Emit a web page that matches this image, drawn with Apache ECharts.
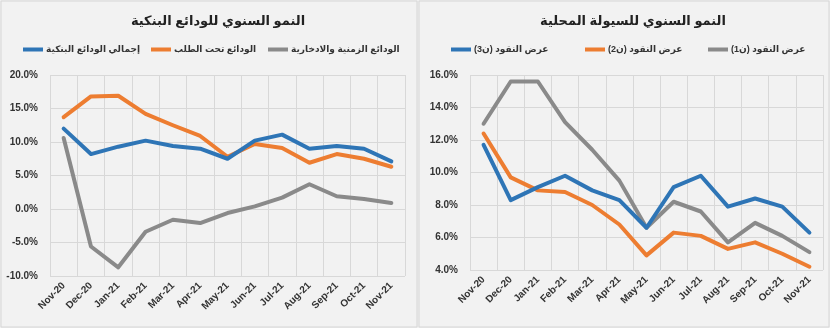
<!DOCTYPE html>
<html><head><meta charset="utf-8">
<script src="https://cdn.jsdelivr.net/npm/echarts@6/dist/echarts.min.js"></script>
<style>html,body{margin:0;padding:0;background:#efefef}#c{width:830px;height:328px}</style>
</head><body><div id="c"></div>
<script>
const months = ['Nov-20','Dec-20','Jan-21','Feb-21','Mar-21','Apr-21','May-21','Jun-21','Jul-21','Aug-21','Sep-21','Oct-21','Nov-21'];
const leftTitle = 'النمو السنوي للودائع البنكية';
const rightTitle = 'النمو السنوي للسيولة المحلية';
const depTotalName = 'إجمالي الودائع البنكية';
const depDemandName = 'الودائع تحت الطلب';
const depTimeName = 'الودائع الزمنية والادخارية';
const depTotal = [12.0, 8.2, 9.3, 10.2, 9.4, 9.0, 7.5, 10.2, 11.1, 9.0, 9.4, 9.0, 7.1];
const depDemand = [13.7, 16.8, 16.9, 14.2, 12.5, 10.9, 7.8, 9.7, 9.1, 6.9, 8.2, 7.5, 6.3];
const depTime = [10.6, -5.6, -8.7, -3.4, -1.6, -2.1, -0.6, 0.4, 1.7, 3.7, 1.9, 1.5, 0.9];
const m3Name = 'عرض النقود (ن3)';
const m2Name = 'عرض النقود (ن2)';
const m1Name = 'عرض النقود (ن1)';
const m3 = [11.7, 8.3, 9.1, 9.8, 8.9, 8.3, 6.6, 9.1, 9.8, 7.9, 8.4, 7.9, 6.3];
const m2 = [12.4, 9.7, 8.9, 8.8, 8.0, 6.8, 4.9, 6.3, 6.1, 5.3, 5.7, 5.0, 4.2];
const m1 = [13.0, 15.6, 15.6, 13.1, 11.4, 9.5, 6.6, 8.2, 7.6, 5.7, 6.9, 6.1, 5.1];

const BLUE = '#2e75b6', ORANGE = '#ed7d31', GRAY = '#8a8a8a';
const FONT = '"Liberation Sans Narrow", "Liberation Sans", "DejaVu Sans", sans-serif';
const chart = echarts.init(document.getElementById('c'));
const xAx = (gi) => ({
  type: 'category', gridIndex: gi, data: months, boundaryGap: true,
  axisLine: {show: false}, axisTick: {show: false},
  splitLine: {show: true, lineStyle: {color: '#d8d8d8', width: 1}},
  axisLabel: {rotate: 45, fontSize: 10, fontWeight: 'bold', color: '#333', fontFamily: FONT, margin: 8}
});
const yAx = (gi, min, max, step) => ({
  type: 'value', gridIndex: gi, min: min, max: max, interval: step,
  axisLine: {show: false}, axisTick: {show: false},
  splitLine: {lineStyle: {color: '#d8d8d8', width: 1}},
  axisLabel: {fontSize: 10, fontWeight: 'bold', color: '#333', fontFamily: FONT, margin: 12,
    formatter: v => v.toFixed(1) + '%'}
});
const line = (name, data, color, gi) => ({
  name: name, type: 'line', xAxisIndex: gi, yAxisIndex: gi, data: data,
  showSymbol: false, symbol: 'none', lineStyle: {color: color, width: 4, cap: 'round', join: 'round'},
  itemStyle: {color: color}, animation: false
});
const leg = (name, left) => ({
  left: left, top: 40, itemWidth: 20, itemHeight: 4, icon: 'rect', itemGap: 4, data: [name],
  textStyle: {fontSize: 9, fontWeight: 'bold', color: '#333', fontFamily: FONT, padding: [0, 0, 0, -2]}
});
chart.setOption({
  backgroundColor: '#efefef',
  animation: false,
  graphic: [
    {type: 'rect', shape: {x: 1, y: 1, width: 416, height: 326}, style: {fill: '#f2f2f2', stroke: '#d6d6d6', lineWidth: 1}, z: -10},
    {type: 'rect', shape: {x: 419, y: 1, width: 410, height: 326}, style: {fill: '#f2f2f2', stroke: '#d6d6d6', lineWidth: 1}, z: -10}
  ],
  title: [
    {text: leftTitle, left: 213, top: 10, textAlign: 'center', textStyle: {fontSize: 13, fontWeight: 'bold', color: '#222', fontFamily: FONT}},
    {text: rightTitle, left: 628, top: 10, textAlign: 'center', textStyle: {fontSize: 13, fontWeight: 'bold', color: '#222', fontFamily: FONT}}
  ],
  legend: [
    leg(depTotalName, 18), leg(depDemandName, 146), leg(depTimeName, 263),
    leg(m3Name, 446), leg(m2Name, 580), leg(m1Name, 703)
  ],
  grid: [
    {left: 50, top: 75, width: 355, height: 201},
    {left: 470, top: 75, width: 353, height: 195}
  ],
  xAxis: [xAx(0), xAx(1)],
  yAxis: [yAx(0, -10, 20, 5), yAx(1, 4, 16, 2)],
  series: [
    line(depTimeName, depTime, GRAY, 0),
    line(depDemandName, depDemand, ORANGE, 0),
    line(depTotalName, depTotal, BLUE, 0),
    line(m1Name, m1, GRAY, 1),
    line(m2Name, m2, ORANGE, 1),
    line(m3Name, m3, BLUE, 1)
  ]
});
</script></body></html>
